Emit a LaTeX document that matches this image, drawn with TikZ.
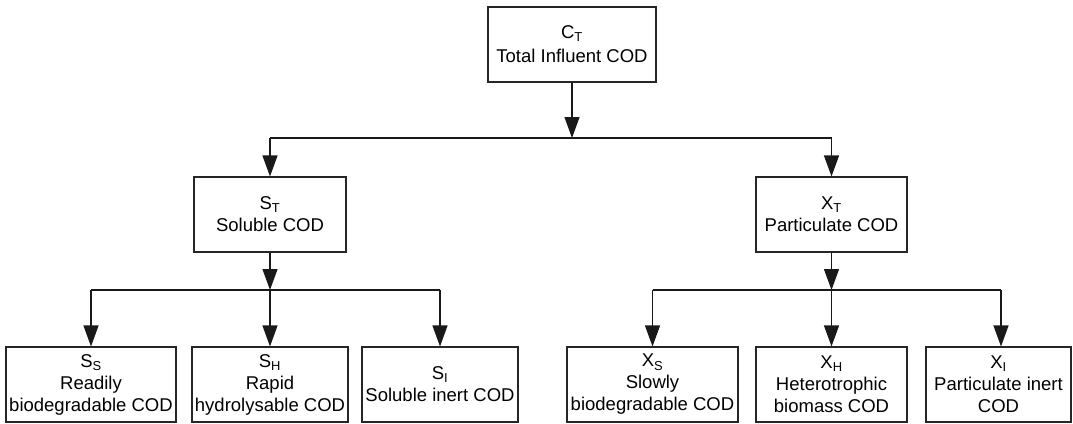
\documentclass[tikz,border=0pt]{standalone}
\usepackage{fontspec}
\setmainfont{Liberation Sans}
\usetikzlibrary{arrows.meta}
\begin{document}
\begin{tikzpicture}[x=1pt,y=-1pt,
  codbox/.style={draw=black!85,line width=1.1pt,inner sep=0pt,align=center,
    font=\fontsize{18.5}{22}\selectfont,minimum height=75pt},
  flow/.style={line width=1.2pt,draw=black!90},
  arr/.style={flow,-{Triangle[length=21pt,width=15pt]}}]
\useasboundingbox (0,0) rectangle (1073,423);

% top level
\node[codbox,minimum width=168pt] (ct) at (572,44.5) {C\textsubscript{T}\\[2pt]Total Influent COD};

% second level
\node[codbox,minimum width=152pt] (st) at (270,214.5) {S\textsubscript{T}\\Soluble COD};
\node[codbox,minimum width=151pt] (xt) at (831.5,214.5) {X\textsubscript{T}\\Particulate COD};

% third level, soluble fractions
\node[codbox,minimum width=170pt] (ss) at (91,384.5) {S\textsubscript{S}\\Readily\\biodegradable COD};
\node[codbox,minimum width=156pt] (sh) at (270,384.5) {S\textsubscript{H}\\Rapid\\hydrolysable COD};
\node[codbox,minimum width=156pt] (si) at (440,384.5) {S\textsubscript{I}\\Soluble inert COD};

% third level, particulate fractions
\node[codbox,minimum width=171pt] (xs) at (652.5,384.5) {X\textsubscript{S}\\Slowly\\biodegradable COD};
\node[codbox,minimum width=151pt] (xh) at (831.5,384.5) {X\textsubscript{H}\\Heterotrophic\\biomass COD};
\node[codbox,minimum width=145pt] (xi) at (998.5,384.5) {X\textsubscript{I}\\Particulate inert\\COD};

% junction points on the distribution bars
\coordinate (j0) at (572,138);
\coordinate (j0l) at (270,138);
\coordinate (j0r) at (831.5,138);
\coordinate (j1) at (270,290);
\coordinate (j1l) at (91,290);
\coordinate (j1r) at (440,290);
\coordinate (j2) at (831.5,290);
\coordinate (j2l) at (652.5,290);
\coordinate (j2r) at (1001,290);

% total -> soluble / particulate
\draw[arr] (ct.south) -- (j0);
\draw[flow] (j0l) -- (j0r);
\draw[arr] (j0l) -- (st.north);
\draw[arr] (j0r) -- (xt.north);

% soluble split
\draw[arr] (st.south) -- (j1);
\draw[flow] (j1l) -- (j1r);
\draw[arr] (j1l) -- (ss.north);
\draw[arr] (j1) -- (sh.north);
\draw[arr] (j1r) -- (si.north);

% particulate split
\draw[arr] (xt.south) -- (j2);
\draw[flow] (j2l) -- (j2r);
\draw[arr] (j2l) -- (xs.north);
\draw[arr] (j2) -- (xh.north);
\draw[arr] (j2r) -- (j2r |- xi.north);
\end{tikzpicture}
\end{document}
